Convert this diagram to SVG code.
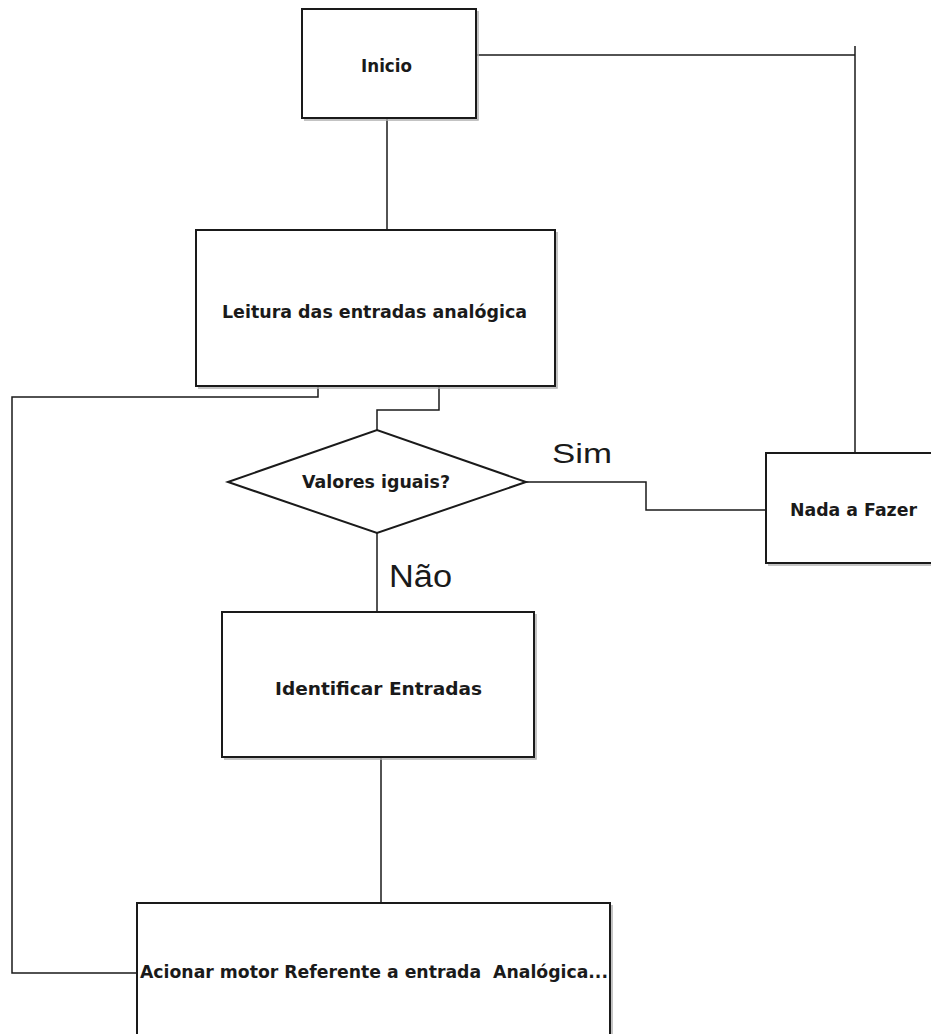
<svg xmlns="http://www.w3.org/2000/svg" width="931" height="1034" viewBox="0 0 931 1034">
<style>
.box{fill:#fff;stroke:#1a1a1a;stroke-width:2}
.shadow{fill:none;stroke:#b0b0b0;stroke-width:1.5}
.lbl{font-family:"DejaVu Sans","Liberation Sans",sans-serif;font-weight:bold;font-size:18px;fill:#1a1a1a}
.big{font-family:"Liberation Sans",Arial,sans-serif;fill:#1a1a1a}
.wire{fill:none;stroke:#1a1a1a;stroke-width:1.5}
</style>
<rect width="931" height="1034" fill="#fff"/>
<g id="connectors">
<polyline class="wire" points="387,118 387,230"/>
<polyline class="wire" points="476,55 855,55"/>
<polyline class="wire" points="855,46 855,453"/>
<polyline class="wire" points="318,387 318,397 12,397 12,973 137,973"/>
<polyline class="wire" points="439,387 439,410 377,410 377,430"/>
<polyline class="wire" points="526,482 646,482 646,510 766,510"/>
<polyline class="wire" points="377,533 377,612"/>
<polyline class="wire" points="381,757 381,903"/>
</g>
<g id="inicio">
<polyline class="shadow" points="478,11 478,120 304,120"/>
<rect class="box" x="302" y="9" width="174" height="109"/>
<text class="lbl" x="361" y="72" textLength="51" lengthAdjust="spacingAndGlyphs">Inicio</text>
</g>
<g id="leitura">
<polyline class="shadow" points="557,232 557,388 198,388"/>
<rect class="box" x="196" y="230" width="359" height="156"/>
<text class="lbl" x="222" y="318" textLength="305" lengthAdjust="spacingAndGlyphs">Leitura das entradas analógica</text>
</g>
<g id="valores">
<polygon class="box" points="228,482 377,430 526,482 377,533"/>
<text class="lbl" x="302" y="488" textLength="148" lengthAdjust="spacingAndGlyphs">Valores iguais?</text>
</g>
<g id="nada">
<polyline class="shadow" points="768,565 935,565"/>
<rect class="box" x="766" y="453" width="170" height="110"/>
<text class="lbl" x="790" y="516" textLength="127" lengthAdjust="spacingAndGlyphs">Nada a Fazer</text>
</g>
<g id="identificar">
<polyline class="shadow" points="536,614 536,759 224,759"/>
<rect class="box" x="222" y="612" width="312" height="145"/>
<text class="lbl" x="275" y="695" textLength="207" lengthAdjust="spacingAndGlyphs">Identificar Entradas</text>
</g>
<g id="acionar">
<polyline class="shadow" points="612,905 612,1040"/>
<rect class="box" x="137" y="903" width="473" height="140"/>
<text class="lbl" x="140" y="978" textLength="468" lengthAdjust="spacingAndGlyphs" xml:space="preserve">Acionar motor Referente a entrada  Analógica...</text>
</g>
<g id="labels">
<text class="big" x="552" y="463" font-size="28" textLength="60" lengthAdjust="spacingAndGlyphs">Sim</text>
<text class="big" x="389" y="587" font-size="31" textLength="63" lengthAdjust="spacingAndGlyphs">Não</text>
</g>
</svg>
